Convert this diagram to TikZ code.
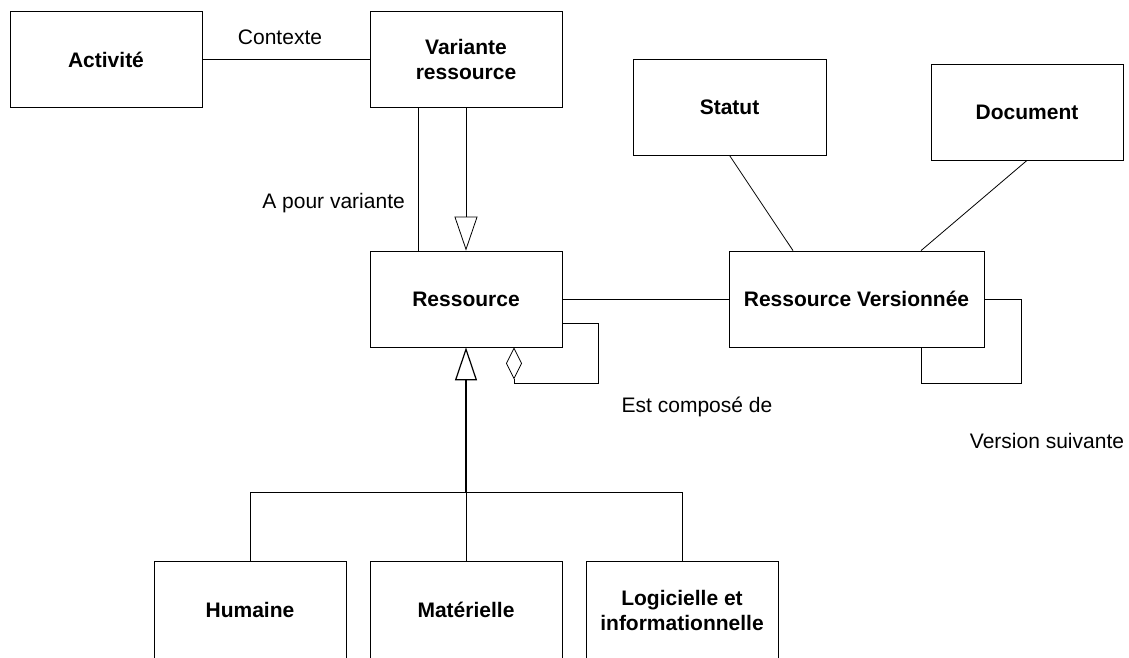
\documentclass[tikz,border=0pt]{standalone}
\usepackage{fontspec}
\setmainfont{Liberation Sans}
\usetikzlibrary{positioning,arrows.meta}

\begin{document}
\begin{tikzpicture}[
    x=1pt, y=-1pt,
    classBox/.style={rectangle, draw=black, line width=0.8pt, minimum width=192pt, minimum height=96pt, align=center, inner sep=2pt, font=\fontsize{21}{25}\selectfont\bfseries},
    assoc/.style={draw=black, line width=0.8pt},
    heritage/.style={draw=black, line width=0.8pt, -{Triangle[open, length=34pt, width=23pt]}},
    heritageBold/.style={draw=black, line width=1.6pt, -{Triangle[open, length=33pt, width=22pt, line width=1.2pt]}},
    agreg/.style={draw=black, line width=0.8pt, -{Diamond[open, length=32pt, width=16pt]}},
    roleLabel/.style={font=\fontsize{21}{25}\selectfont, inner sep=0pt}
]
    \useasboundingbox (0,0) rectangle (1129,657);

    % Classes du haut
    \node[classBox] (act) at (106, 59.5) {Activité};
    \node[classBox] (var) at (466, 59.5) {Variante\\ressource};
    \node[classBox, minimum width=193pt] (stat) at (729.5, 107) {Statut};
    \node[classBox] (doc) at (1027, 112) {Document};

    % Classes du milieu
    \node[classBox] (res) at (466, 299) {Ressource};
    \node[classBox, minimum width=255pt] (resv) at (856.5, 299) {Ressource Versionnée};

    % Sous-classes (coupées en bas)
    \node[classBox, minimum height=97pt] (hum) at (250, 610) {Humaine};
    \node[classBox, minimum height=97pt] (mat) at (466, 610) {Matérielle};
    \node[classBox, minimum height=97pt] (log) at (682, 610) {Logicielle et\\informationnelle};

    % Associations
    \draw[assoc] (act.east) -- (var.west);
    \node[roleLabel] (lblCtx) at (280, 37) {Contexte};

    \draw[assoc] ([xshift=-48pt]var.south) -- ([xshift=-48pt]res.north);
    \draw[heritage] (var.south) -- (res.north);
    \node[roleLabel, anchor=east] (lblVar) at (405, 203) {A pour variante};

    \draw[assoc] (stat.south) -- ([xshift=-63.5pt]resv.north);
    \draw[assoc] (doc.south) -- ([xshift=64.5pt]resv.north);
    \draw[assoc] (res.east) -- (resv.west);

    % Composition réflexive
    \draw[agreg] ([yshift=-24pt]res.east) -- ++(36,0) -- ++(0,60) -| ([xshift=48pt]res.south);
    \node[roleLabel] (lblComp) at (697, 407) {Est composé de};

    % Version suivante
    \draw[assoc] (resv.east) -- ++(37,0) -- ++(0,84) -| ([xshift=64.5pt]resv.south);
    \node[roleLabel] (lblVers) at (1047, 441) {Version suivante};

    % Spécialisation
    \coordinate (brk) at (466, 492);
    \draw[assoc] (hum.north) |- (brk) -| (log.north);
    \draw[assoc] (mat.north) -- (brk);
    \draw[heritageBold] (brk) -- (res.south);
\end{tikzpicture}
\end{document}
